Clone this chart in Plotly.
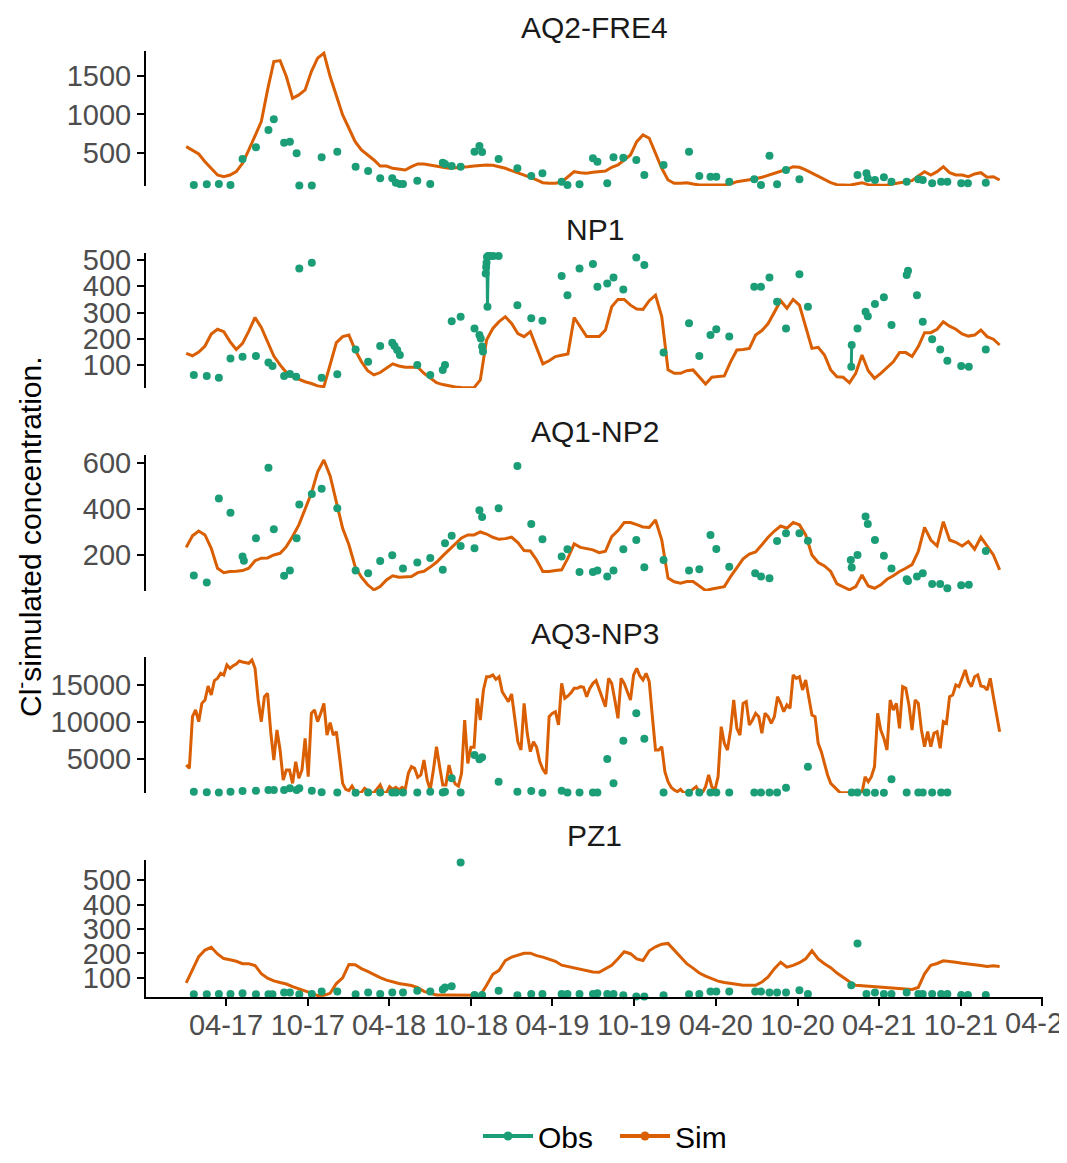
import pandas as pd
import plotly.graph_objects as go
from plotly.subplots import make_subplots

# simulated series (biweekly samples, weekly for AQ3-NP3)
sim_dates = pd.date_range("2017-01-02", periods=131, freq="14D")
sim_dates_weekly = pd.date_range("2017-01-02", periods=261, freq="7D")

sim_aq2 = [582, 530, 487, 387, 301, 214, 192, 214, 257, 366,
           539, 712, 907, 1319, 1687, 1700, 1492, 1211, 1254, 1319,
           1557, 1731, 1796, 1492, 1232, 994, 821, 647, 539, 474,
           409, 331, 331, 301, 288, 279, 322, 357, 357, 340,
           331, 314, 301, 305, 314, 322, 331, 340, 344, 340,
           322, 301, 270, 244, 214, 184, 149, 114, 106, 106,
           123, 192, 257, 244, 236, 249, 257, 266, 314, 344,
           409, 474, 647, 734, 691, 496, 301, 149, 106, 106,
           114, 97, 84, 84, 84, 84, 84, 97, 127, 140,
           149, 166, 184, 210, 236, 257, 288, 322, 314, 279,
           236, 192, 149, 114, 88, 80, 80, 97, 114, 88,
           80, 80, 84, 97, 106, 127, 140, 201, 257, 214,
           257, 322, 244, 214, 214, 192, 227, 244, 184, 192,
           149]

sim_np1 = [144, 135, 149, 172, 218, 236, 227, 189, 159, 182,
           229, 281, 243, 189, 134, 100, 71, 55, 45, 36,
           29, 20, 17, 100, 185, 208, 214, 157, 112, 78,
           62, 71, 87, 104, 96, 91, 91, 91, 68, 49,
           32, 25, 20, 16, 14, 13, 13, 43, 195, 239,
           265, 284, 258, 220, 208, 227, 163, 104, 116, 132,
           137, 142, 281, 246, 208, 208, 208, 233, 322, 350,
           350, 328, 313, 312, 345, 366, 284, 81, 68, 68,
           78, 81, 55, 27, 53, 55, 58, 112, 157, 159,
           163, 214, 231, 258, 303, 345, 316, 350, 328, 246,
           163, 167, 138, 81, 55, 53, 32, 68, 138, 78,
           49, 68, 90, 112, 147, 147, 132, 170, 223, 223,
           236, 265, 248, 236, 218, 210, 214, 233, 208, 198,
           176]

sim_aq1 = [233, 283, 304, 287, 229, 142, 123, 128, 129, 132,
           142, 175, 186, 187, 200, 207, 236, 280, 331, 396,
           468, 562, 613, 544, 432, 316, 244, 149, 103, 70,
           48, 62, 91, 109, 103, 103, 106, 123, 129, 147,
           168, 196, 222, 248, 274, 287, 287, 300, 291, 277,
           268, 271, 277, 254, 219, 217, 178, 128, 128, 132,
           135, 186, 248, 233, 226, 222, 210, 216, 280, 306,
           341, 341, 332, 322, 320, 352, 265, 99, 83, 77,
           84, 84, 65, 45, 52, 57, 62, 106, 142, 183,
           204, 213, 244, 277, 304, 326, 316, 341, 331, 287,
           200, 167, 152, 128, 74, 60, 48, 62, 113, 65,
           55, 70, 94, 109, 128, 142, 158, 215, 320, 265,
           239, 345, 265, 255, 239, 258, 225, 277, 239, 200,
           135]

sim_aq3 = [4188, 3737, 10720, 11621, 10044, 12522, 12972, 14865, 13648, 15585,
           15901, 16577, 16351, 17703, 17252, 17613, 17838, 18243, 18108, 17973,
           17928, 18379, 17252, 12972, 10044, 13423, 13874, 8693, 4864, 8918,
           6215, 2161, 3512, 3512, 1710, 4639, 2386, 3512, 7792, 2611,
           11170, 11621, 10044, 11170, 12522, 8242, 9909, 8242, 8693, 5314,
           1710, 899, 719, 1350, 584, 449, 494, 1035, 719, 449,
           449, 1035, 1485, 449, 449, 1260, 899, 1170, 809, 1170,
           899, 3062, 3962, 3737, 2521, 2836, 4864, 2161, 809, 3512,
           6665, 3962, 1485, 1485, 4188, 2521, 1620, 1350, 3062, 10270,
           4413, 6575, 6575, 13198, 10270, 14324, 16126, 16126, 16351, 15766,
           16126, 14099, 13423, 12747, 13784, 10270, 7341, 6215, 12522, 8468,
           5990, 7341, 6575, 4639, 3602, 2971, 10720, 11170, 11396, 9594,
           15225, 13198, 13513, 13964, 14550, 14550, 14775, 14685, 13423, 14550,
           15225, 15585, 14414, 13198, 12072, 15901, 15225, 12972, 10495, 15901,
           15225, 14099, 12972, 16351, 17252, 16216, 15676, 16577, 15450, 10720,
           6215, 6215, 6665, 3287, 1935, 1170, 809, 584, 899, 449,
           449, 584, 899, 1260, 584, 449, 1260, 2836, 1260, 809,
           2611, 9369, 7116, 6215, 8918, 12972, 9144, 8242, 12522, 12747,
           9594, 10270, 11170, 10720, 8468, 11170, 10720, 9819, 10720, 13423,
           12522, 11396, 12297, 11846, 16351, 15901, 16126, 14324, 15676, 13423,
           10946, 10720, 7116, 5990, 4413, 2836, 1710, 1260, 899, 449,
           449, 449, 449, 449, 449, 449, 449, 2611, 1935, 2611,
           3962, 11170, 8918, 7792, 6215, 12972, 11621, 12522, 9144, 14775,
           14550, 12297, 8918, 12972, 12522, 8918, 6665, 8693, 6665, 8468,
           8693, 6440, 10044, 9819, 13423, 13648, 15000, 14775, 15901, 17027,
           15450, 14775, 16126, 16351, 14865, 14775, 14324, 15901, 13423, 10946,
           8693]

sim_pz1 = [80, 134, 187, 214, 225, 198, 179, 174, 168, 158,
           158, 151, 117, 99, 88, 81, 75, 64, 56, 48,
           38, 28, 29, 37, 77, 100, 155, 154, 138, 127,
           113, 101, 91, 83, 77, 73, 69, 60, 45, 37,
           30, 30, 30, 29, 29, 29, 29, 29, 70, 115,
           131, 171, 185, 193, 201, 201, 191, 185, 176, 168,
           152, 147, 140, 135, 130, 124, 123, 138, 152, 178,
           207, 199, 178, 171, 211, 227, 238, 241, 214, 185,
           158, 140, 120, 107, 97, 87, 81, 77, 75, 70,
           70, 70, 83, 104, 138, 164, 144, 151, 162, 178,
           211, 178, 158, 142, 120, 101, 84, 70, 68, 66,
           64, 62, 60, 58, 57, 54, 53, 61, 117, 152,
           159, 170, 168, 164, 160, 158, 154, 151, 147, 150,
           147]

# observations
obs_aq2_dates = ["2017-01-19", "2017-02-17", "2017-03-16", "2017-04-11", "2017-05-08", "2017-06-07",
                 "2017-07-05", "2017-07-17", "2017-08-09", "2017-08-22", "2017-09-06", "2017-09-12",
                 "2017-10-10", "2017-11-01", "2017-12-06", "2018-01-16", "2018-02-13", "2018-03-12",
                 "2018-04-08", "2018-04-16", "2018-04-25", "2018-05-02", "2018-06-03", "2018-07-02",
                 "2018-07-30", "2018-08-04", "2018-08-19", "2018-09-08", "2018-10-09", "2018-10-20",
                 "2018-10-26", "2018-12-02", "2019-01-13", "2019-02-13", "2019-03-10", "2019-04-22",
                 "2019-05-05", "2019-06-01", "2019-07-01", "2019-07-11", "2019-08-02", "2019-08-16",
                 "2019-09-07", "2019-10-06", "2019-10-24", "2019-12-06", "2020-02-01", "2020-02-24",
                 "2020-03-20", "2020-04-02", "2020-05-01", "2020-06-26", "2020-07-11", "2020-07-30",
                 "2020-08-16", "2020-09-05", "2020-10-05", "2021-02-12", "2021-03-04", "2021-03-07",
                 "2021-03-23", "2021-04-12", "2021-04-29", "2021-06-02", "2021-06-28", "2021-07-08",
                 "2021-07-29", "2021-08-18", "2021-09-01", "2021-10-02", "2021-10-17", "2021-11-26"]
obs_aq2 = [84, 93, 97, 84, 422, 574, 799, 938, 634, 647, 496, 76, 76, 444, 517,
           322, 266, 171, 171, 114, 97, 97, 140, 97, 374, 357, 331, 322, 517, 591, 513, 422,
           301, 201, 236, 127, 84, 93, 431, 387, 106, 444, 439, 409, 214, 344,
           517, 201, 192, 192, 127, 158, 84, 465, 93, 279, 158,
           214, 236, 171, 149, 184, 127, 127, 158, 149, 106, 127, 127, 106, 106, 114]

obs_np1_dates = ["2017-01-19", "2017-02-17", "2017-03-16", "2017-04-11", "2017-05-08", "2017-06-07",
                 "2017-07-05", "2017-07-14", "2017-08-09", "2017-08-22", "2017-09-05", "2017-09-12",
                 "2017-10-10", "2017-11-01", "2017-12-06", "2018-01-16", "2018-02-13", "2018-03-12",
                 "2018-04-08", "2018-04-13", "2018-04-19", "2018-04-25", "2018-06-03", "2018-07-02",
                 "2018-07-30", "2018-08-04", "2018-08-19", "2018-09-08", "2018-10-09", "2018-10-20",
                 "2018-10-23", "2018-10-26", "2018-10-28", "2018-11-03", "2018-11-04", "2018-11-05",
                 "2018-11-06", "2018-11-07", "2018-11-08", "2018-11-09", "2018-11-12", "2018-11-20",
                 "2018-12-02", "2019-01-13", "2019-02-13", "2019-03-10", "2019-04-22", "2019-05-05",
                 "2019-06-01", "2019-07-01", "2019-07-11", "2019-08-02", "2019-08-16", "2019-09-07",
                 "2019-10-06", "2019-10-24", "2019-12-06", "2020-02-01", "2020-02-24", "2020-03-20",
                 "2020-04-02", "2020-05-01", "2020-06-26", "2020-07-11", "2020-07-30", "2020-08-16",
                 "2020-09-05", "2020-10-05", "2020-10-24", "2021-01-29", "2021-01-30", "2021-02-12",
                 "2021-03-02", "2021-03-07", "2021-03-23", "2021-04-12", "2021-04-29", "2021-06-02",
                 "2021-06-05", "2021-06-25", "2021-07-08", "2021-07-29", "2021-08-16", "2021-09-01",
                 "2021-10-02", "2021-10-19", "2021-11-26"]
obs_np1 = [62, 58, 51, 125, 131, 134, 109, 96, 58, 65, 55, 468, 490, 51, 64,
           159, 112, 172, 185, 172, 157, 138, 100, 62, 81, 100, 267, 284, 239, 214,
           201, 170, 151, 449, 474, 490, 512, 322, 515, 516, 516, 516, 516,
           328, 278, 269, 439, 366, 468, 485, 398, 411, 434, 388, 510, 481, 147,
           259, 134, 214, 236, 208, 398, 398, 434, 341, 239, 446, 322,
           93, 176, 239, 303, 286, 332, 358, 252, 443, 459, 366, 265, 198, 159, 116,
           96, 93, 159]

obs_aq1_dates = ["2017-01-19", "2017-02-17", "2017-03-16", "2017-04-11", "2017-05-08", "2017-05-11",
                 "2017-06-07", "2017-07-05", "2017-07-17", "2017-08-09", "2017-08-22", "2017-09-06",
                 "2017-09-12", "2017-10-10", "2017-11-01", "2017-12-06", "2018-01-16", "2018-02-13",
                 "2018-03-12", "2018-04-08", "2018-05-02", "2018-06-03", "2018-07-02", "2018-07-30",
                 "2018-08-04", "2018-08-19", "2018-09-08", "2018-10-09", "2018-10-20", "2018-10-26",
                 "2018-12-02", "2019-01-13", "2019-02-13", "2019-03-10", "2019-04-22", "2019-05-05",
                 "2019-06-01", "2019-07-01", "2019-07-11", "2019-08-02", "2019-08-16", "2019-09-07",
                 "2019-10-06", "2019-10-24", "2019-12-06", "2020-02-01", "2020-02-24", "2020-03-20",
                 "2020-04-02", "2020-05-01", "2020-06-28", "2020-07-11", "2020-07-30", "2020-08-16",
                 "2020-09-05", "2020-10-05", "2020-10-24", "2021-01-28", "2021-01-30", "2021-02-12",
                 "2021-03-02", "2021-03-07", "2021-03-23", "2021-04-12", "2021-04-29", "2021-06-02",
                 "2021-06-05", "2021-06-25", "2021-07-08", "2021-07-29", "2021-08-16", "2021-09-01",
                 "2021-10-02", "2021-10-19", "2021-11-26"]
obs_aq1 = [110, 80, 446, 384, 193, 175, 273, 580, 312, 109, 132, 273, 420, 465, 488, 403,
           132, 120, 174, 199, 141, 167, 187, 135, 251, 283, 239, 229, 394, 365, 403,
           587, 335, 268, 193, 225, 126, 126, 132, 106, 132, 225, 265, 146, 178,
           132, 138, 287, 226, 149, 120, 106, 99, 261, 294, 294, 262,
           178, 145, 200, 367, 335, 265, 196, 141, 94, 87, 106, 120, 74, 74, 55, 68, 70, 217]

obs_aq3_dates = ["2017-01-19", "2017-02-17", "2017-03-16", "2017-04-11", "2017-05-08", "2017-06-07",
                 "2017-07-05", "2017-07-17", "2017-08-09", "2017-08-22", "2017-09-06", "2017-09-12",
                 "2017-10-10", "2017-11-01", "2017-12-06", "2018-01-16", "2018-02-13", "2018-03-12",
                 "2018-04-08", "2018-04-16", "2018-05-02", "2018-06-03", "2018-07-02", "2018-07-30",
                 "2018-08-04", "2018-08-19", "2018-09-08", "2018-10-09", "2018-10-20", "2018-10-26",
                 "2018-12-02", "2019-01-13", "2019-02-13", "2019-03-10", "2019-04-22", "2019-05-05",
                 "2019-06-01", "2019-07-01", "2019-07-11", "2019-08-02", "2019-08-16", "2019-09-07",
                 "2019-10-06", "2019-10-24", "2019-12-06", "2020-02-01", "2020-02-24", "2020-03-20",
                 "2020-04-02", "2020-05-01", "2020-06-26", "2020-07-11", "2020-07-30", "2020-08-16",
                 "2020-09-05", "2020-10-24", "2021-01-30", "2021-02-12", "2021-03-04", "2021-03-23",
                 "2021-04-12", "2021-04-29", "2021-06-02", "2021-06-28", "2021-07-08", "2021-07-29",
                 "2021-08-18", "2021-09-01"]
obs_aq3 = [584, 500, 470, 584, 674, 719, 809, 809, 809, 1035, 809, 1035, 719, 500, 480,
           450, 460, 460, 460, 460, 460, 480, 584, 480, 584, 2386, 460, 5539, 4954, 5224, 1935,
           584, 674, 450, 719, 480, 460, 460, 460, 5000, 1710, 7477, 11170, 7747, 460,
           450, 460, 460, 460, 460, 460, 460, 460, 460, 1125, 3962,
           460, 460, 460, 450, 450, 2251, 460, 460, 460, 460, 460, 460]

obs_pz1_dates = ["2017-01-19", "2017-02-17", "2017-03-16", "2017-04-11", "2017-05-08", "2017-06-07",
                 "2017-07-05", "2017-07-14", "2017-08-09", "2017-08-22", "2017-09-12", "2017-10-10",
                 "2017-11-01", "2017-12-06", "2018-01-16", "2018-02-13", "2018-03-12", "2018-04-08",
                 "2018-05-02", "2018-06-03", "2018-07-02", "2018-07-30", "2018-08-04", "2018-08-19",
                 "2018-09-08", "2018-10-09", "2018-10-26", "2018-12-02", "2019-01-13", "2019-02-13",
                 "2019-03-10", "2019-04-22", "2019-05-05", "2019-06-01", "2019-07-01", "2019-07-11",
                 "2019-08-02", "2019-08-16", "2019-09-07", "2019-10-06", "2019-10-24", "2019-12-06",
                 "2020-02-01", "2020-02-24", "2020-03-20", "2020-04-02", "2020-05-01", "2020-06-28",
                 "2020-07-11", "2020-07-30", "2020-08-16", "2020-09-05", "2020-10-05", "2020-10-24",
                 "2021-01-29", "2021-02-12", "2021-03-04", "2021-03-23", "2021-04-12", "2021-04-29",
                 "2021-06-02", "2021-06-28", "2021-07-08", "2021-07-29", "2021-08-18", "2021-09-01",
                 "2021-10-02", "2021-10-17", "2021-11-26"]
obs_pz1 = [33, 33, 34, 34, 37, 33, 33, 33, 40, 40, 33, 34, 44, 44,
           33, 40, 34, 40, 40, 48, 44, 53, 61, 66, 572, 30, 30, 48,
           29, 34, 34, 34, 34, 34, 34, 37, 34, 34, 29, 24, 24, 29,
           33, 34, 44, 44, 44, 44, 44, 40, 40, 40, 50, 34,
           70, 241, 34, 40, 34, 34, 40, 34, 34, 34, 34, 34, 30, 30, 30]

wells = ["AQ2-FRE4", "NP1", "AQ1-NP2", "AQ3-NP3", "PZ1"]
y_ranges = [[71, 1824], [12, 527], [43, 635], [405, 18784], [22, 582]]
y_ticks = [[500, 1000, 1500], [100, 200, 300, 400, 500], [200, 400, 600],
           [5000, 10000, 15000], [100, 200, 300, 400, 500]]
last_tick = "2022-04-01"

OBS_COL = "#1B9E77"
SIM_COL = "#D95F02"
# the page body adds 8px all round; keep the whole page at the window size
OFF = 8
W, H = 1067 - 2 * OFF, 1163 - 2 * OFF

# panel pixel positions in the window (top, bottom)
panels_px = [(51, 186), (253, 388), (455, 591), (657, 793), (860, 997)]
x_dom = [(146 - OFF) / W, (1043 - OFF) / W]


def px_y(p):
    return 1 - (p - OFF) / H


def obs_xy(dates, vals):
    # connect only observations on consecutive days
    d = pd.to_datetime(dates)
    xs, ys = [], []
    for k in range(len(d)):
        if k > 0 and (d[k] - d[k - 1]).days > 1:
            xs.append(None)
            ys.append(None)
        xs.append(d[k])
        ys.append(vals[k])
    return xs, ys


sims = [(sim_dates, sim_aq2), (sim_dates, sim_np1), (sim_dates, sim_aq1),
        (sim_dates_weekly, sim_aq3), (sim_dates, sim_pz1)]
obs = [(obs_aq2_dates, obs_aq2), (obs_np1_dates, obs_np1), (obs_aq1_dates, obs_aq1),
       (obs_aq3_dates, obs_aq3), (obs_pz1_dates, obs_pz1)]

fig = make_subplots(rows=5, cols=1, shared_xaxes=True)

for r in range(5):
    sx, sy = sims[r]
    fig.add_trace(go.Scatter(x=sx, y=sy, mode="lines", line=dict(color=SIM_COL, width=3),
                             showlegend=False, hoverinfo="skip"), row=r + 1, col=1)
    ox, oy = obs_xy(*obs[r])
    fig.add_trace(go.Scatter(x=ox, y=oy, mode="lines+markers", connectgaps=False,
                             line=dict(color=OBS_COL, width=3),
                             marker=dict(color=OBS_COL, size=8),
                             cliponaxis=False, showlegend=False), row=r + 1, col=1)

# legend entries
fig.add_trace(go.Scatter(x=[None], y=[None], mode="lines+markers", name="Obs",
                         line=dict(color=OBS_COL, width=4), marker=dict(size=9)), row=5, col=1)
fig.add_trace(go.Scatter(x=[None], y=[None], mode="lines+markers", name="Sim",
                         line=dict(color=SIM_COL, width=4), marker=dict(size=9)), row=5, col=1)

tickfont = dict(size=29, color="#4D4D4D")
for r in range(5):
    top, bot = panels_px[r]
    sfx = "" if r == 0 else str(r + 1)
    fig.layout["yaxis" + sfx].update(
        domain=[px_y(bot), px_y(top)], range=y_ranges[r], tickvals=y_ticks[r], tickformat="d",
        showline=True, linecolor="black", linewidth=2, ticks="outside", ticklen=7,
        tickwidth=2, tickcolor="black", tickfont=tickfont, showgrid=False, zeroline=False,
        automargin=False)
    fig.layout["xaxis" + sfx].update(
        domain=x_dom, type="date", range=["2016-10-04", "2022-04-03"],
        tick0="2017-04-01", dtick="M6", tickformat="%m-%y", showgrid=False, zeroline=False,
        showline=(r == 4), linecolor="black", linewidth=2,
        ticks="outside" if r == 4 else "", ticklen=7, tickwidth=2, tickcolor="black",
        showticklabels=(r == 4), tickfont=tickfont, automargin=False, ticklabelstandoff=-6)
    fig.add_annotation(text=wells[r], xref="paper", yref="paper",
                       x=(x_dom[0] + x_dom[1]) / 2, y=px_y(top - 24),
                       xanchor="center", yanchor="middle", showarrow=False,
                       font=dict(size=30, color="#1A1A1A"))

# last tick label runs off the right edge (plotly hides it), so draw it on the axis itself
fig.add_annotation(text=pd.Timestamp(last_tick).strftime("%m-%y"), xref="x5", yref="paper",
                   x=last_tick, y=px_y(1023), xanchor="center", yanchor="middle",
                   showarrow=False, font=tickfont)

fig.add_annotation(text="Cl<sup>-</sup>simulated concentration.", xref="paper", yref="paper",
                   x=(28 - OFF) / W, y=px_y(537), textangle=-90, xanchor="center", yanchor="middle",
                   showarrow=False, font=dict(size=30, color="black"))

# margins fixed so the legend cannot push the panels
fig.update_layout(
    width=W, height=H,
    margin=dict(l=0, r=0, t=0, b=0, autoexpand=False),
    plot_bgcolor="white", paper_bgcolor="white",
    font=dict(family="Liberation Sans, Arial, sans-serif"),
    legend=dict(orientation="h", x=(478 - OFF) / W, xanchor="left", y=px_y(1136), yanchor="middle",
                font=dict(size=30, color="black"), itemwidth=50, entrywidth=72),
)

fig.write_html("out.html")
